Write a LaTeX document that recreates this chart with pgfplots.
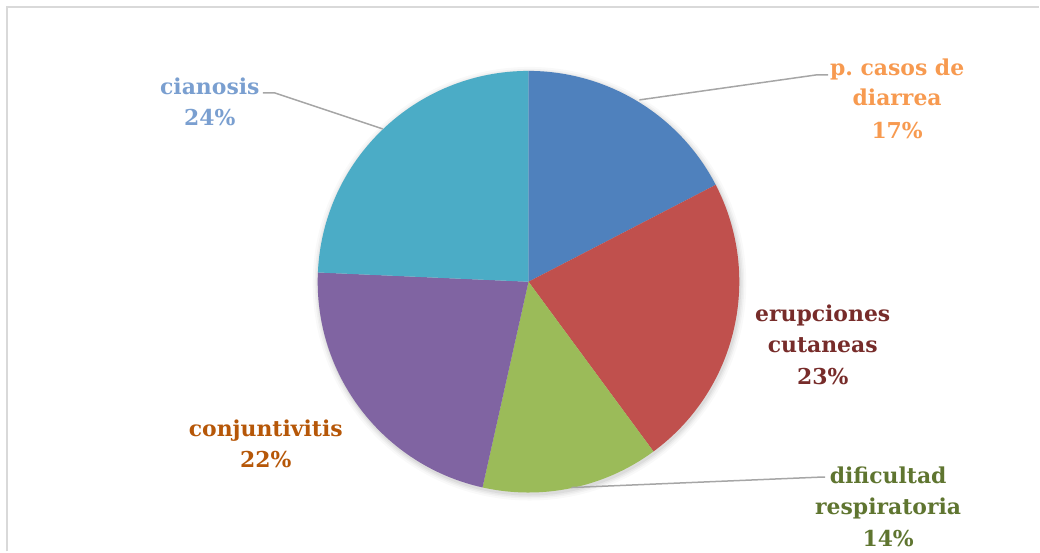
\documentclass[border=0pt]{standalone}
\usepackage{pgfplots}
\usepackage{pgfplotstable}
\pgfplotsset{compat=1.18}
\usepackage{fontspec}
\setmainfont{DejaVu Serif}
\frenchspacing

\definecolor{sBlue}{HTML}{4F81BD}
\definecolor{sRed}{HTML}{C0504D}
\definecolor{sGreen}{HTML}{9BBB59}
\definecolor{sPurple}{HTML}{8064A2}
\definecolor{sTeal}{HTML}{4BACC6}
\definecolor{lBlue}{HTML}{7A9FD0}
\definecolor{lOrange}{HTML}{F79A50}
\definecolor{lRed}{HTML}{772C2A}
\definecolor{lGreen}{HTML}{5F7530}
\definecolor{lBrown}{HTML}{B65708}
\definecolor{leader}{HTML}{A6A6A6}
\definecolor{frame}{HTML}{D9D9D9}

% share (%) of each category, clockwise from 12 o'clock
\pgfplotstableread{
idx value
0 17.4
1 22.5
2 13.6
3 22.2
4 24.3
}\piedata

\newcommand\getval[2]{\pgfplotstablegetelem{#1}{value}\of\piedata\global\let#2\pgfplotsretval}
\getval{0}\vA
\getval{1}\vB
\getval{2}\vC
\getval{3}\vD
\getval{4}\vE
\pgfmathsetmacro\angA{90}
\pgfmathsetmacro\angB{\angA-3.6*\vA}
\pgfmathsetmacro\angC{\angB-3.6*\vB}
\pgfmathsetmacro\angD{\angC-3.6*\vC}
\pgfmathsetmacro\angE{\angD-3.6*\vD}
\pgfmathsetmacro\angF{\angE-3.6*\vE}

\begin{document}
\begin{tikzpicture}
\begin{axis}[
  width=1040bp, height=552bp, scale only axis,
  xmin=0, xmax=1040, ymin=0, ymax=552,
  hide axis, clip=false,
]
% full canvas as bounding box
\path (axis cs:0,0) rectangle (axis cs:1040,552);
% frame
\draw[frame, line width=2bp] (axis cs:7.5,0) -- (axis cs:7.5,545) -- (axis cs:1040,545);
% shadow
\fill[black, opacity=0.025] (axis cs:530,268) circle[radius=217bp];
\fill[black, opacity=0.03] (axis cs:530,268) circle[radius=215bp];
\fill[black, opacity=0.04] (axis cs:530,268) circle[radius=213.5bp];
\fill[black, opacity=0.05] (axis cs:530,268) circle[radius=212bp];
% slices
\fill[sBlue]   (axis cs:529,270) -- ++(\angA:211bp) arc[start angle=\angA, end angle=\angB, radius=211bp] -- cycle;
\fill[sRed]    (axis cs:529,270) -- ++(\angB:211bp) arc[start angle=\angB, end angle=\angC, radius=211bp] -- cycle;
\fill[sGreen]  (axis cs:529,270) -- ++(\angC:211bp) arc[start angle=\angC, end angle=\angD, radius=211bp] -- cycle;
\fill[sPurple] (axis cs:529,270) -- ++(\angD:211bp) arc[start angle=\angD, end angle=\angE, radius=211bp] -- cycle;
\fill[sTeal]   (axis cs:529,270) -- ++(\angE:211bp) arc[start angle=\angE, end angle=\angF, radius=211bp] -- cycle;
% leader lines
\draw[leader, line width=1.5bp] (axis cs:263,459) -- (axis cs:275,459) -- (axis cs:383,423);
\draw[leader, line width=1.5bp] (axis cs:640,452) -- (axis cs:817,477) -- (axis cs:829,477);
\draw[leader, line width=1.5bp] (axis cs:572,64) -- (axis cs:823,74.5) -- (axis cs:826,74.5);
% labels
\tikzset{lab/.style={anchor=base, inner sep=0pt, font=\fontsize{22}{26}\selectfont\bfseries}}
\node[lab, text=lBlue] at (axis cs:210,457) {cianosis};
\node[lab, text=lBlue] at (axis cs:210,426) {24\%};
\node[lab, text=lOrange] at (axis cs:898,476) {p. casos de};
\node[lab, text=lOrange] at (axis cs:898,446) {diarrea};
\node[lab, text=lOrange] at (axis cs:898,413.7) {17\%};
\node[lab, text=lRed] at (axis cs:823.5,230.3) {erupciones};
\node[lab, text=lRed] at (axis cs:823.5,199.3) {cutaneas};
\node[lab, text=lRed] at (axis cs:823.5,167) {23\%};
\node[lab, text=lGreen] at (axis cs:889,68) {dificultad};
\node[lab, text=lGreen] at (axis cs:889,37) {respiratoria};
\node[lab, text=lGreen] at (axis cs:889,5.3) {14\%};
\node[lab, text=lBrown] at (axis cs:266,114.7) {conjuntivitis};
\node[lab, text=lBrown] at (axis cs:266,83.7) {22\%};
\end{axis}
\end{tikzpicture}
\end{document}
